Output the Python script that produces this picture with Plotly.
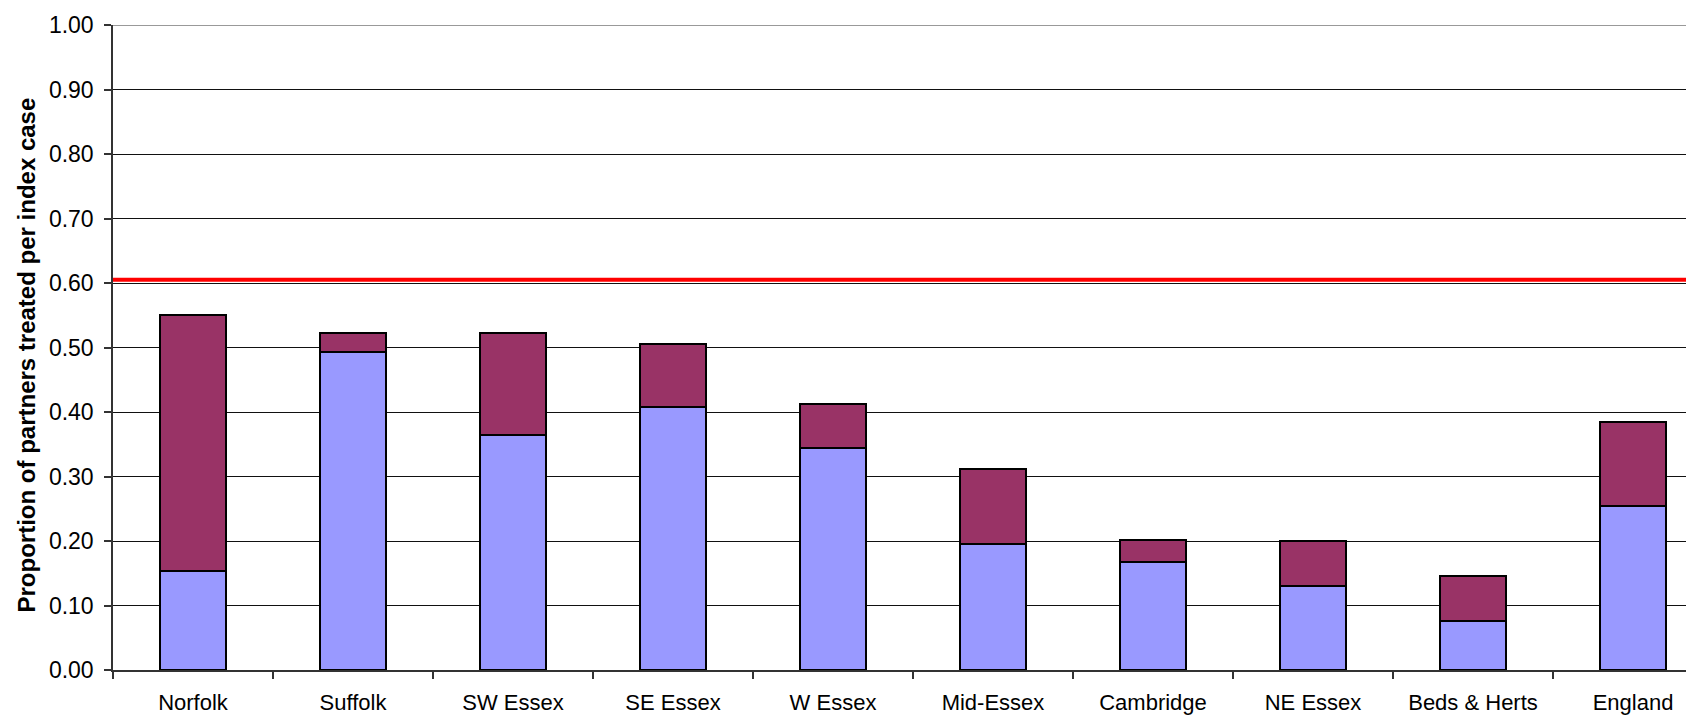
import plotly.graph_objects as go

categories = ["Norfolk", "Suffolk", "SW Essex", "SE Essex", "W Essex",
              "Mid-Essex", "Cambridge", "NE Essex", "Beds & Herts", "England"]
lower_values = [0.154, 0.493, 0.364, 0.407, 0.344, 0.195, 0.168, 0.131, 0.076, 0.254]
total_values = [0.550, 0.522, 0.522, 0.505, 0.412, 0.312, 0.202, 0.200, 0.145, 0.384]
upper_values = [round(t - l, 3) for t, l in zip(total_values, lower_values)]
target_value = 0.605
y_ticks = [0.0, 0.1, 0.2, 0.3, 0.4, 0.5, 0.6, 0.7, 0.8, 0.9, 1.0]
y_title = "Proportion of partners treated per index case"

W, H = 1686, 717
L, T, B = 113, 25, 47
cat_px = 160.0
x_max = -0.5 + (W - L) / cat_px

font_family = "Liberation Sans, Arial, sans-serif"

fig = go.Figure()
fig.add_trace(go.Bar(x=categories, y=lower_values, marker=dict(color="#9999FF", line=dict(color="#000000", width=2)),
                     width=0.41, showlegend=False))
fig.add_trace(go.Bar(x=categories, y=upper_values, marker=dict(color="#993366", line=dict(color="#000000", width=2)),
                     width=0.41, showlegend=False))

fig.add_shape(type="line", xref="paper", yref="y", x0=0, x1=1, y0=1.0, y1=1.0,
              line=dict(color="#999999", width=2), layer="above")
fig.add_shape(type="line", xref="paper", yref="y", x0=0, x1=1, y0=target_value, y1=target_value,
              line=dict(color="#FF0000", width=4), layer="above")

fig.add_annotation(text="<b>" + y_title + "</b>", textangle=-90, xref="paper", yref="y",
                   x=0, y=0.4876, xanchor="center", yanchor="middle", xshift=-(L - 26),
                   showarrow=False, font=dict(family=font_family, size=24, color="#000000"))

fig.update_layout(
    width=W, height=H, barmode="stack", bargap=0.59,
    margin=dict(l=L, r=0, t=T, b=B, pad=0),
    paper_bgcolor="white", plot_bgcolor="white",
    font=dict(family=font_family, size=23, color="#000000"),
)
fig.update_xaxes(type="category", range=[-0.5, x_max], showgrid=False,
                 showline=True, linecolor="#333333", linewidth=1.5,
                 ticks="outside", tickson="boundaries", ticklen=7, tickcolor="#333333", tickwidth=1.5,
                 tickfont=dict(size=22), ticklabelstandoff=12, automargin=False)
fig.update_yaxes(range=[0, 1.0], tickvals=y_ticks, tickformat=".2f",
                 showgrid=True, gridcolor="#111111", gridwidth=1,
                 showline=True, linecolor="#333333", linewidth=1.5,
                 ticks="outside", ticklen=7, tickcolor="#333333", tickwidth=1.5,
                 tickfont=dict(size=23), zeroline=False, ticklabelstandoff=6, automargin=False)

fig.write_html("out.html", config={"displayModeBar": False},
               post_script="document.body.style.margin='0';document.body.style.overflow='hidden';")
